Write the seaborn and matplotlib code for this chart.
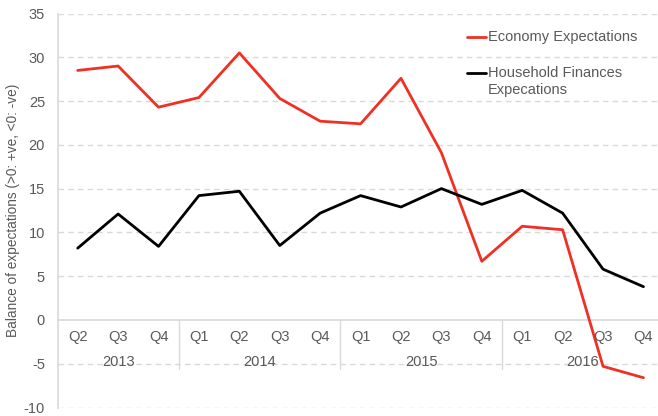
import pandas as pd
import matplotlib.pyplot as plt
import seaborn as sns
import numpy as np

quarters = ["Q2", "Q3", "Q4", "Q1", "Q2", "Q3", "Q4", "Q1", "Q2", "Q3", "Q4", "Q1", "Q2", "Q3", "Q4"]
years = ["2013", "2014", "2015", "2016"]
year_centers = [1, 4.5, 8.5, 12.5]
year_breaks = [2.5, 6.5, 10.5]
economy = [28.5, 29.0, 24.3, 25.4, 30.5, 25.3, 22.7, 22.4, 27.6, 19.1, 6.7, 10.7, 10.3, -5.3, -6.6]
household = [8.2, 12.1, 8.4, 14.2, 14.7, 8.5, 12.2, 14.2, 12.9, 15.0, 13.2, 14.8, 12.2, 5.8, 3.8]
series_names = ["Economy Expectations", "Household Finances\nExpecations"]
colors = ["#EE3124", "#000000"]

sns.set_style("white")
plt.rcParams["font.family"] = ["Liberation Sans", "DejaVu Sans"]
plt.rcParams["axes.unicode_minus"] = False
grey = "#595959"
light = "#D9D9D9"
fs = 10.5

data = pd.DataFrame({
    "idx": list(range(len(quarters))) * 2,
    "value": economy + household,
    "series": [series_names[0]] * len(economy) + [series_names[1]] * len(household),
})

fig = plt.figure(figsize=(6.58, 4.16), dpi=100)
ax = fig.add_axes([57.5 / 658, 8.5 / 416, 1 - 57.5 / 658, 394 / 416])

# grid lines
for y in range(-10, 40, 5):
    if y == 0:
        ax.axhline(0, color=light, lw=1.2, zorder=1)
    else:
        ax.axhline(y, color=light, lw=1, ls=(0, (4, 3)), zorder=0)

sns.lineplot(data=data, x="idx", y="value", hue="series",
             palette=colors, linewidth=2.0, ax=ax, zorder=3, legend=False)

ax.set_ylim(-10, 35)
ax.set_xlim(-0.5, 14.36)
ax.set_yticks(range(-10, 40, 5))
ax.set_xticks([])
ax.set_xlabel("")
ax.set_ylabel("Balance of expectations (>0: +ve, <0: -ve)", fontsize=9.8, color=grey, labelpad=3)
ax.tick_params(axis="y", length=0, pad=9, labelsize=fs, labelcolor=grey)
for s in ["top", "right", "bottom"]:
    ax.spines[s].set_visible(False)
ax.spines["left"].set_color(light)
ax.spines["left"].set_linewidth(1.2)

# category labels along the zero line
for i, q in enumerate(quarters):
    ax.annotate(q, xy=(i, 0), xytext=(0, -12), textcoords="offset points",
                ha="center", va="center", fontsize=fs, color=grey)
for c, yr in zip(year_centers, years):
    ax.annotate(yr, xy=(c, 0), xytext=(0, -30), textcoords="offset points",
                ha="center", va="center", fontsize=fs, color=grey)
for b in year_breaks:
    ax.plot([b, b], [0, -49 / 8.78], color=light, lw=1, zorder=1)

# legend drawn by hand (pixel positions from top-left)
def px(x, y):
    return x / 658, 1 - y / 416

for name, col, ly, ty in zip(series_names, colors, [37, 73], [37, 81.5]):
    x0, y0 = px(467, ly)
    x1, _ = px(486, ly)
    fig.add_artist(plt.Line2D([x0, x1], [y0, y0], color=col, lw=2.0))
    tx, tyy = px(488, ty)
    fig.text(tx, tyy, name, ha="left", va="center", fontsize=fs, color=grey, linespacing=1.3)

plt.savefig("out.png", dpi=100)
